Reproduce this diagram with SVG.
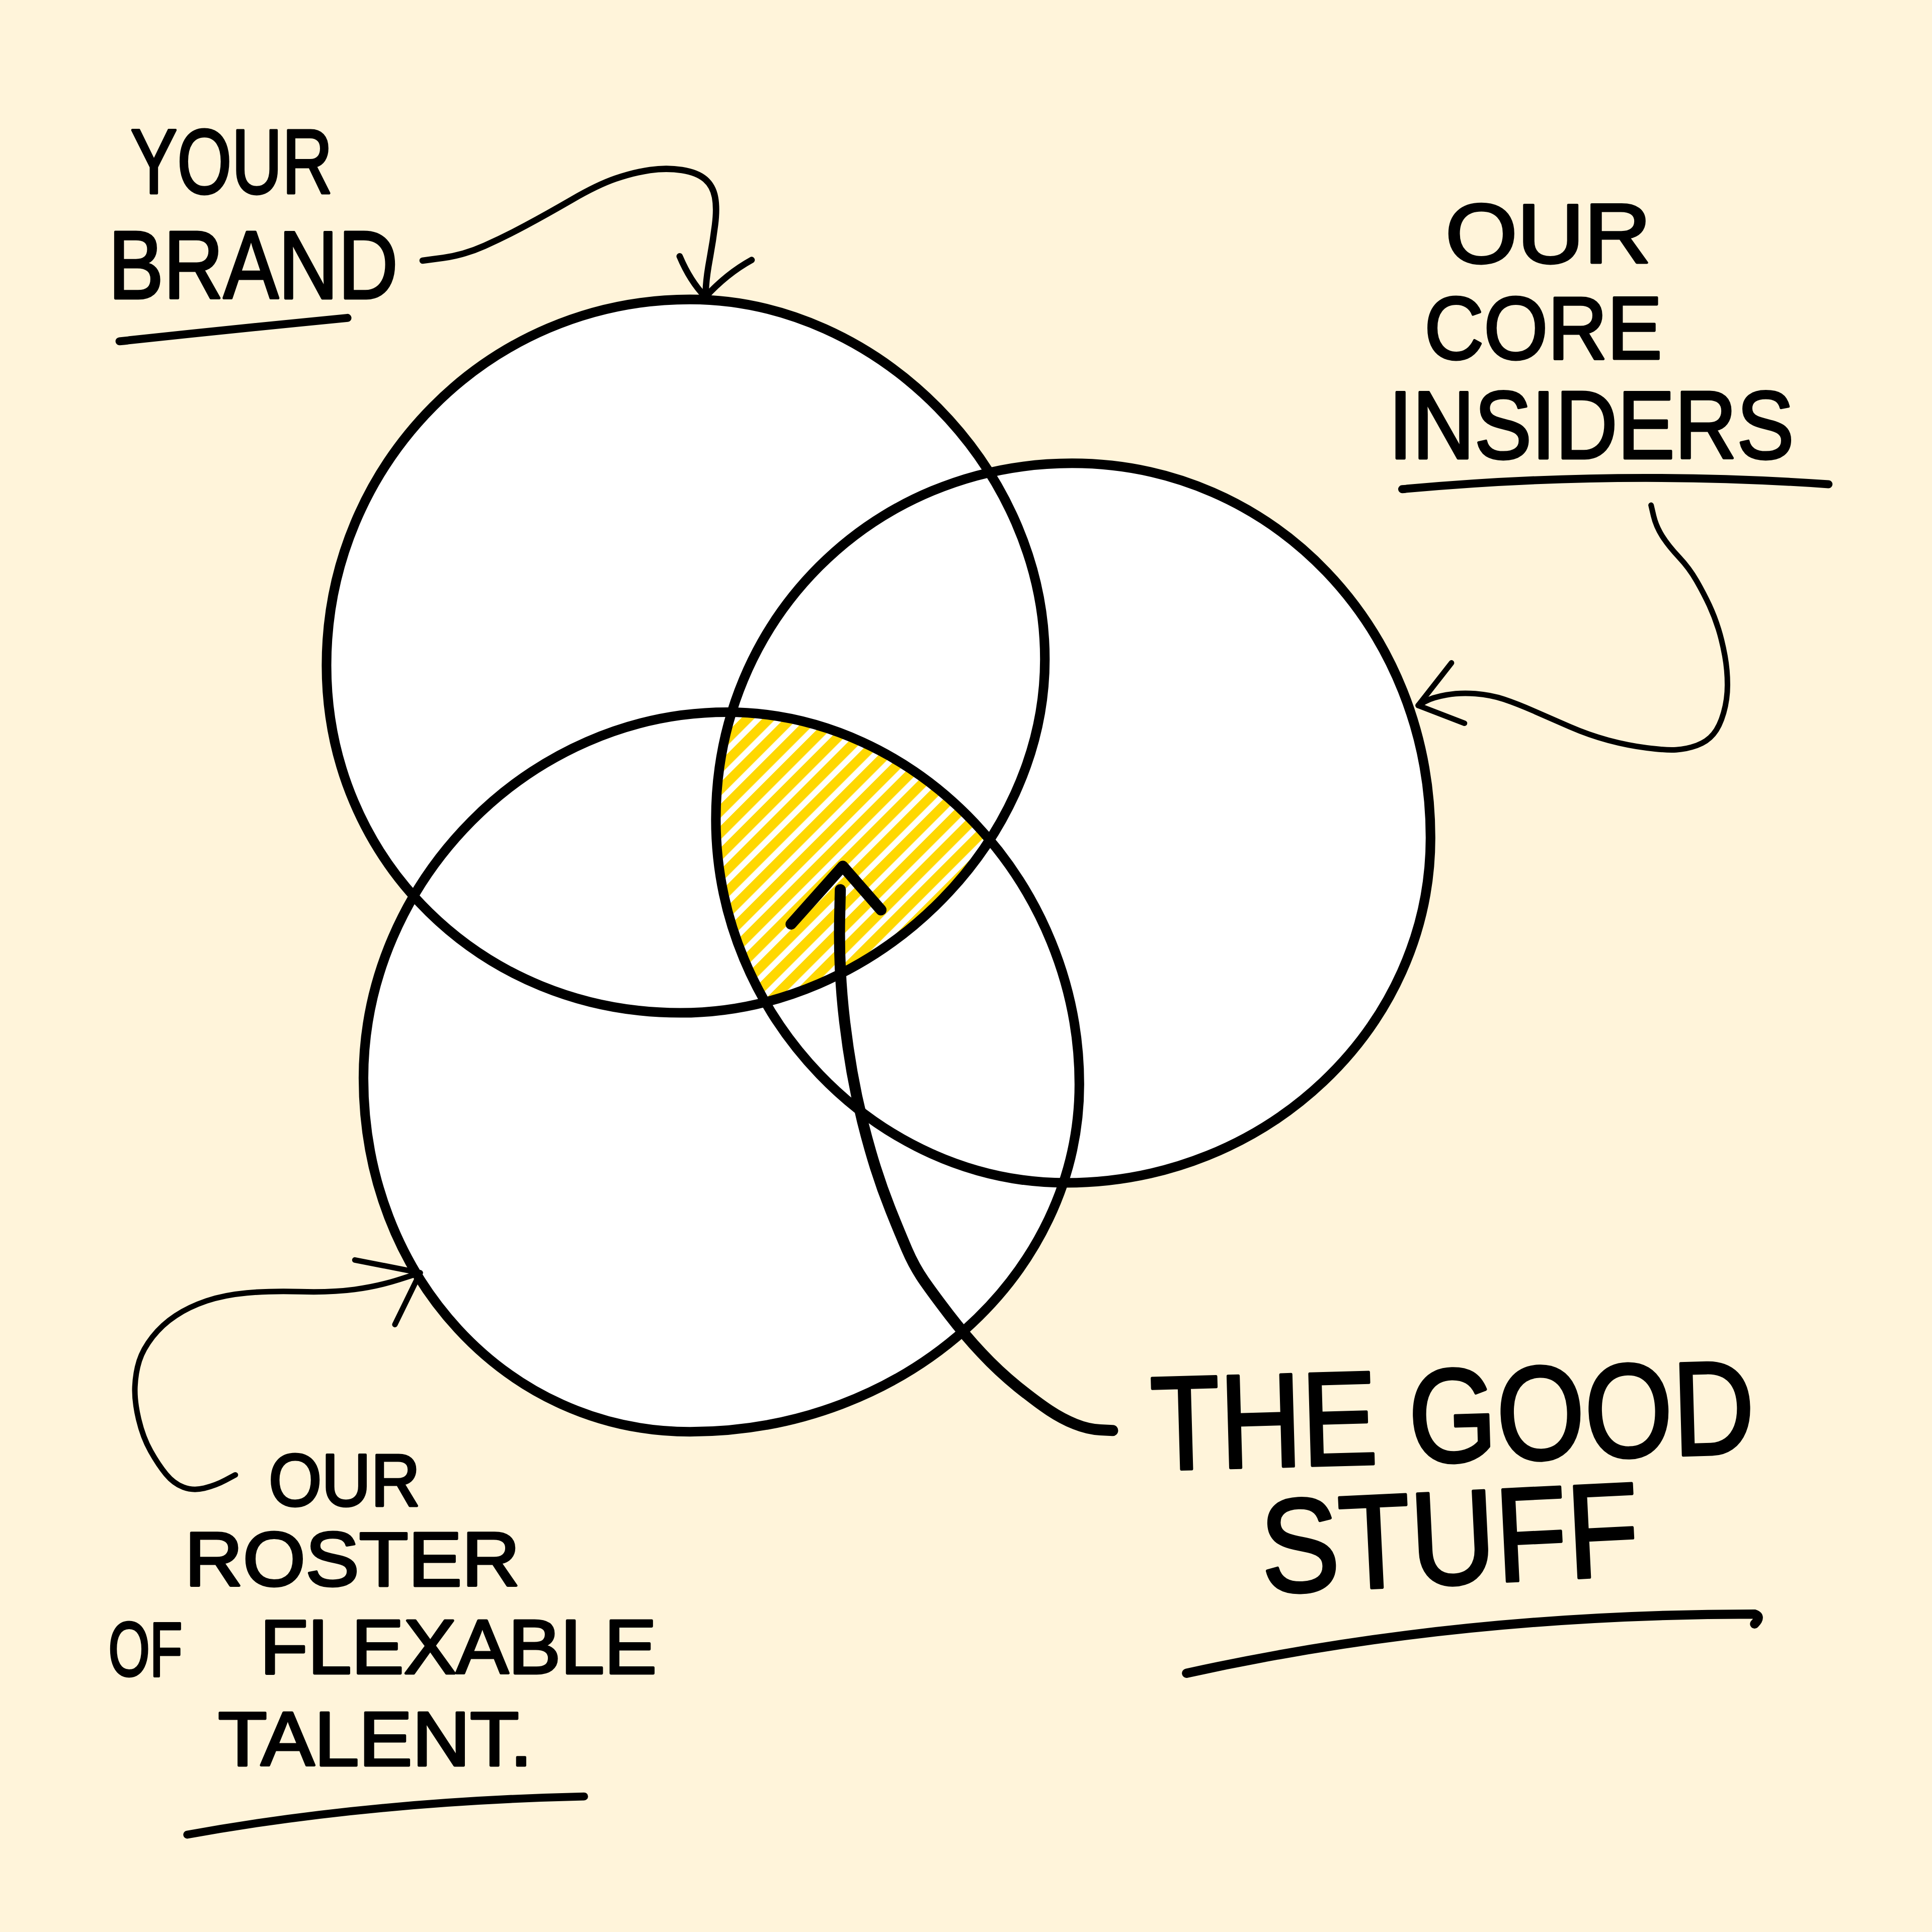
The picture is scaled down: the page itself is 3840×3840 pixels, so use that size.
<svg xmlns="http://www.w3.org/2000/svg" width="3840" height="3840" viewBox="0 0 3840 3840">
<style>
.bg{fill:#FFF4DA}
.disc{fill:#FFFFFF;stroke:none}
.ring{fill:none;stroke:#000;stroke-width:7.8;stroke-linejoin:round;stroke-linecap:round}
.thin{fill:none;stroke:#000;stroke-width:4.5;stroke-linejoin:round;stroke-linecap:round}
.mid{fill:none;stroke:#000;stroke-width:5.2;stroke-linejoin:round;stroke-linecap:round}
.thick{fill:none;stroke:#000;stroke-width:9;stroke-linejoin:round;stroke-linecap:round}
.uline{fill:none;stroke:#000;stroke-width:6.5;stroke-linecap:round}
.uline2{fill:none;stroke:#000;stroke-width:7.5;stroke-linecap:round}
.lbl{font-family:"Liberation Sans",Arial,sans-serif;fill:#000;stroke:#000;stroke-width:2;stroke-linejoin:round}
.big{stroke-width:2.5}
</style>
<defs>
<path id="pA" d="M560,243 C712.6,243 848,380.2 848,535 C848,687.1 708.9,822 552,822 C391,822 265,698 265,540 C265,376 397,243 560,243 Z"/>
<path id="pB" d="M870,376 C1033,376 1161,509.8 1161,680 C1161,834 1027.8,960 865,960 C711.6,960 581,824.3 581,665 C581,503.2 708.2,376 870,376 Z"/>
<path id="pC" d="M590,578 C744.4,578 876,716.9 876,880 C876,1035.1 733.8,1162 560,1162 C411.6,1162 295,1035.7 295,875 C295,714.6 430.7,578 590,578 Z"/>
<clipPath id="cA"><use href="#pA"/></clipPath>
<clipPath id="cB"><use href="#pB"/></clipPath>
<clipPath id="cC"><use href="#pC"/></clipPath>
<pattern id="hatch" patternUnits="userSpaceOnUse" width="12.5" height="12.5" patternTransform="rotate(-45)">
<rect width="12.5" height="12.5" fill="#FFFFFF"/>
<rect width="12.5" height="7.8" fill="#FFD800"/>
</pattern>
</defs>
<rect class="bg" x="0" y="0" width="3840" height="3840"/>
<g transform="scale(2.44898)">
<g id="fills">
<use href="#pA" class="disc"/>
<use href="#pB" class="disc"/>
<use href="#pC" class="disc"/>
</g>
<g id="good-stuff-zone" clip-path="url(#cA)">
<g clip-path="url(#cB)">
<rect x="560" y="560" width="320" height="280" fill="url(#hatch)" clip-path="url(#cC)"/>
</g>
</g>
<g id="node-your-brand"><use href="#pA" class="ring"/></g>
<g id="node-core-insiders"><use href="#pB" class="ring"/></g>
<g id="node-flexible-talent"><use href="#pC" class="ring"/></g>
<g id="connectors">
<path class="mid" d="M343,211.5 L359.75,209.25 Q376.5,207 393.25,199.5 Q410,192 426.75,183 Q443.5,174 464.25,162 Q485,150 499.5,145 Q514,140 527.5,138 Q541,136 553.5,138 Q566,140 572.3,145.5 Q578.6,151 580.3,160 Q582,169 580.3,182.5 Q578.6,196 576.1,209.5 Q573.6,223 573,232 L572.5,241"/>
<path class="mid" d="M551.6,208 Q560,228 572.5,241 Q590,222 610,211"/>
<path class="thin" d="M1340,410 L1342,418.5 Q1344,427 1349,435 Q1354,443 1362.5,452 Q1371,461 1377,471.5 Q1383,482 1387.3,491.3 Q1391.6,500.6 1394.7,510.6 Q1397.8,520.6 1399.9,532.3 Q1402,544 1402,555.8 Q1402,567.6 1398.85,578.6 Q1395.7,589.6 1390.6,595.8 Q1385.5,602 1377.15,605 Q1368.8,608 1360.4,608.5 Q1352,609 1336.5,607 Q1321,605 1305.3,600.8 Q1289.6,596.6 1274,589.8 Q1258.5,583 1244.75,577 Q1231,571 1220.5,567.5 Q1210,564 1197.5,563 Q1185,562 1173.75,564 Q1162.5,566 1156.75,569.25 L1151,572.5"/>
<path class="thin" d="M1178,538 L1151,572.5 L1188.6,587"/>
<path class="thin" d="M191,1197 L183,1201.3 Q175,1205.6 165.8,1207.8 Q156.6,1210 148.8,1207 Q141,1204 134.8,1196.5 Q128.6,1189 122.3,1177.8 Q116,1166.6 112.5,1151.8 Q109,1137 109.5,1125.5 Q110,1114 113,1104.5 Q116,1095 123.8,1085 Q131.6,1075 142.55,1067.8 Q153.5,1060.6 167.65,1055.8 Q181.8,1051 200.4,1049.3 Q219,1047.6 244,1048.3 Q269,1049 287.8,1046.5 Q306.6,1044 323.8,1038.5 L341,1033"/>
<path class="thin" d="M288,1022.6 L341,1033 L320.5,1075"/>
<path class="thick" d="M682,722 L681.5,743.5 Q681,765 682,786.5 Q683,808 685.5,829 Q688,850 691.5,870 Q695,890 700,910 Q705,930 710.5,947.5 Q716,965 723,982.5 Q730,1000 736,1014 Q742,1028 750,1039.5 Q758,1051 770.5,1067.25 Q783,1083.5 796.75,1098.25 Q810.5,1113 826,1125.5 Q841.6,1138 851.8,1144.75 Q862,1151.5 872.5,1155.75 Q883,1160 893,1160.5 L903,1161"/>
<path class="thick" d="M642,750 L684,703 L715,738.5"/>
</g>
<g id="label-your-brand">
<text class="lbl" x="106" y="157" font-size="74" textLength="164" lengthAdjust="spacingAndGlyphs">YOUR</text>
<text class="lbl" x="88" y="242" font-size="78" textLength="235" lengthAdjust="spacingAndGlyphs">BRAND</text>
<path class="uline" d="M97,277 Q190,267 282,258"/>
</g>
<g id="label-core-insiders">
<text class="lbl" x="1173" y="213" font-size="68" textLength="167" lengthAdjust="spacingAndGlyphs">OUR</text>
<text class="lbl" x="1156" y="291" font-size="72" textLength="193" lengthAdjust="spacingAndGlyphs">CORE</text>
<text class="lbl" x="1127" y="372" font-size="78" textLength="329" lengthAdjust="spacingAndGlyphs">INSIDERS</text>
<path class="uline" d="M1138,397 Q1311,381 1484,393"/>
</g>
<g id="label-flexible-talent">
<text class="lbl" x="218" y="1222" font-size="60" textLength="123" lengthAdjust="spacingAndGlyphs">OUR</text>
<text class="lbl" x="150" y="1287" font-size="62" textLength="272" lengthAdjust="spacingAndGlyphs">ROSTER</text>
<text class="lbl" font-size="62"><tspan x="88" y="1360" textLength="60" lengthAdjust="spacingAndGlyphs">OF</tspan> <tspan x="211" y="1358" textLength="322" lengthAdjust="spacingAndGlyphs">FLEXABLE</tspan></text>
<text class="lbl" x="177" y="1433" font-size="62" textLength="255" lengthAdjust="spacingAndGlyphs">TALENT.</text>
<path class="uline" d="M152,1489 Q300,1462 474,1458"/>
</g>
<g id="label-good-stuff">
<text class="lbl big" x="935" y="1193" font-size="108" textLength="490" lengthAdjust="spacingAndGlyphs" transform="rotate(-1.6 935 1193)">THE GOOD</text>
<text class="lbl big" x="1025" y="1293" font-size="108" textLength="307" lengthAdjust="spacingAndGlyphs" transform="rotate(-2.8 1025 1293)">STUFF</text>
<path class="uline2" d="M963,1358 Q1180,1310 1424,1310 Q1430,1312 1424,1318"/>
</g>
</g>
</svg>
